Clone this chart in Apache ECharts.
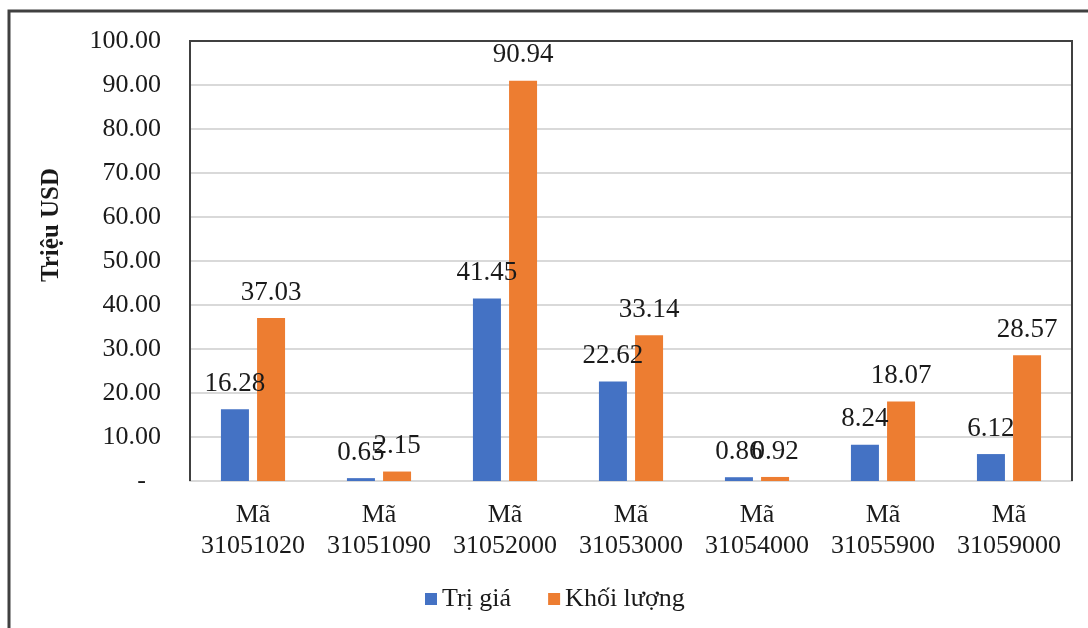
<!DOCTYPE html>
<html>
<head>
<meta charset="utf-8">
<script src="https://cdn.jsdelivr.net/npm/echarts@6/dist/echarts.min.js"></script>
<style>
  html, body { margin: 0; padding: 0; background: #fff; }
  #chart { width: 1088px; height: 628px; }
</style>
</head>
<body>
<div id="chart"></div>
<script>
// Mã hàng hóa và số liệu của hai chỉ tiêu
const categories = ['Mã\n31051020', 'Mã\n31051090', 'Mã\n31052000', 'Mã\n31053000', 'Mã\n31054000', 'Mã\n31055900', 'Mã\n31059000'];
const triGia = [16.28, 0.65, 41.45, 22.62, 0.86, 8.24, 6.12];
const khoiLuong = [37.03, 2.15, 90.94, 33.14, 0.92, 18.07, 28.57];
const seriesNames = ['Trị giá', 'Khối lượng'];
const yAxisTitle = 'Triệu USD';

const FONT = '"Liberation Serif", "Times New Roman", serif';
const TEXT = '#1a1a1a';
const W = 1088, H = 628;
const G = { left: 190, right: 16, top: 41, bottom: 147 };

const chart = echarts.init(document.getElementById('chart'), null, { renderer: 'canvas' });

const barLabel = {
  show: true,
  position: 'top',
  distance: 12,
  fontFamily: FONT,
  fontSize: 27,
  color: TEXT,
  formatter: p => p.value.toFixed(2)
};

chart.setOption({
  animation: false,
  backgroundColor: '#fff',
  graphic: [
    {
      // outer frame of the chart object
      type: 'rect',
      shape: { x: 9, y: 11, width: 1200, height: 800 },
      style: { fill: 'none', stroke: '#404040', lineWidth: 3 },
      silent: true,
      z: -1
    },
    {
      // plot-area frame: left, top and right sides
      type: 'polyline',
      shape: {
        points: [
          [G.left, H - G.bottom],
          [G.left, G.top],
          [W - G.right, G.top],
          [W - G.right, H - G.bottom]
        ]
      },
      style: { fill: 'none', stroke: '#404040', lineWidth: 2 },
      silent: true,
      z: 10
    },
    {
      type: 'text',
      x: 52,
      y: 225,
      rotation: Math.PI / 2,
      style: {
        text: yAxisTitle,
        fontFamily: FONT,
        fontSize: 25,
        fontWeight: 'bold',
        fill: TEXT,
        align: 'center',
        verticalAlign: 'middle'
      },
      silent: true
    }
  ],
  grid: { left: G.left, right: G.right, top: G.top, bottom: G.bottom },
  legend: {
    left: 425,
    top: 586,
    padding: 0,
    icon: 'rect',
    itemWidth: 12,
    itemHeight: 12,
    itemGap: 37,
    textStyle: { fontFamily: FONT, fontSize: 26, color: TEXT },
    data: seriesNames
  },
  xAxis: {
    type: 'category',
    data: categories,
    axisLine: { lineStyle: { color: '#d9d9d9', width: 2 } },
    axisTick: { show: false },
    axisLabel: {
      fontFamily: FONT, fontSize: 26, color: TEXT,
      lineHeight: 31, margin: 19, interval: 0
    }
  },
  yAxis: {
    type: 'value',
    min: 0, max: 100, interval: 10,
    axisLine: { show: false },
    axisTick: { show: false },
    splitLine: { lineStyle: { color: '#d9d9d9', width: 2 } },
    axisLabel: {
      margin: 29,
      fontFamily: FONT, fontSize: 26, color: TEXT,
      formatter: v => v === 0 ? '{dash|-}' : v.toFixed(2),
      rich: { dash: { fontFamily: FONT, fontSize: 26, color: TEXT, padding: [0, 15, 0, 0] } }
    }
  },
  series: [
    {
      name: seriesNames[0], type: 'bar', data: triGia,
      barWidth: 28, barGap: '29%',
      itemStyle: { color: '#4472C4' },
      label: barLabel
    },
    {
      name: seriesNames[1], type: 'bar', data: khoiLuong,
      barWidth: 28,
      itemStyle: { color: '#ED7D31' },
      label: barLabel
    }
  ]
});
</script>
</body>
</html>
